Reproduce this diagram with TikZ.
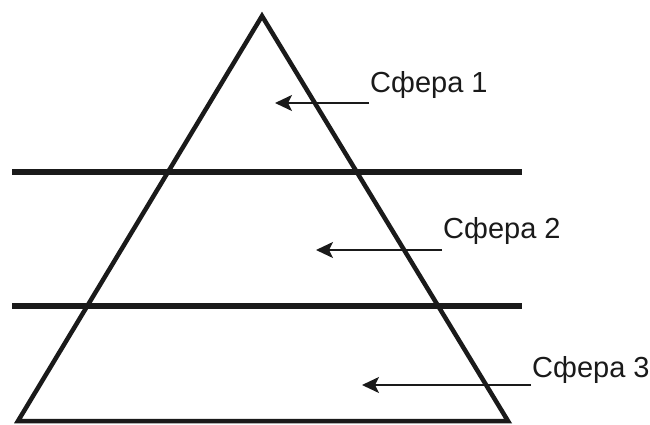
\documentclass[tikz,border=0pt]{standalone}
\usepackage{fontspec}
\setmainfont{Liberation Sans}
\usepackage{tikz}
\usetikzlibrary{arrows.meta,calc}
\definecolor{LineDark}{HTML}{1A1A1A}

\begin{document}
\begin{tikzpicture}[x=1pt,y=-1pt,
                    every node/.style={font=\fontsize{29}{32}\selectfont},
                    edge/.style={line width=4.5pt,LineDark,line join=miter},
                    divider/.style={line width=6pt,LineDark},
                    sphere/.style={anchor=base west,inner sep=1pt,text=LineDark},
                    pointer/.style={-{Stealth[length=17pt,width=16pt,inset=4pt]},line width=2pt,LineDark}]
  \useasboundingbox (0,0) rectangle (650,425);

  % pyramid
  \coordinate (apex)  at (262,16);
  \coordinate (left)  at (18,421);
  \coordinate (right) at (508,421);
  \draw[edge] (apex) -- (left) -- (right) -- cycle;

  % dividing lines
  \coordinate (d1w) at (12,172);
  \coordinate (d1e) at (522,172);
  \coordinate (d2w) at (12,306);
  \coordinate (d2e) at (522,306);
  \draw[divider] (d1w) -- (d1e);
  \draw[divider] (d2w) -- (d2e);

  % labels
  \node[sphere] (s1) at (369,93)  {Сфера 1};
  \node[sphere] (s2) at (442,238) {Сфера 2};
  \node[sphere] (s3) at (531,377) {Сфера 3};

  \coordinate (t1) at (275,103);
  \coordinate (t2) at (316,250);
  \coordinate (t3) at (362,385);
  \draw[pointer] (s1.west |- t1) -- (t1);
  \draw[pointer] (s2.west |- t2) -- (t2);
  \draw[pointer] (s3.west |- t3) -- (t3);
\end{tikzpicture}
\end{document}
